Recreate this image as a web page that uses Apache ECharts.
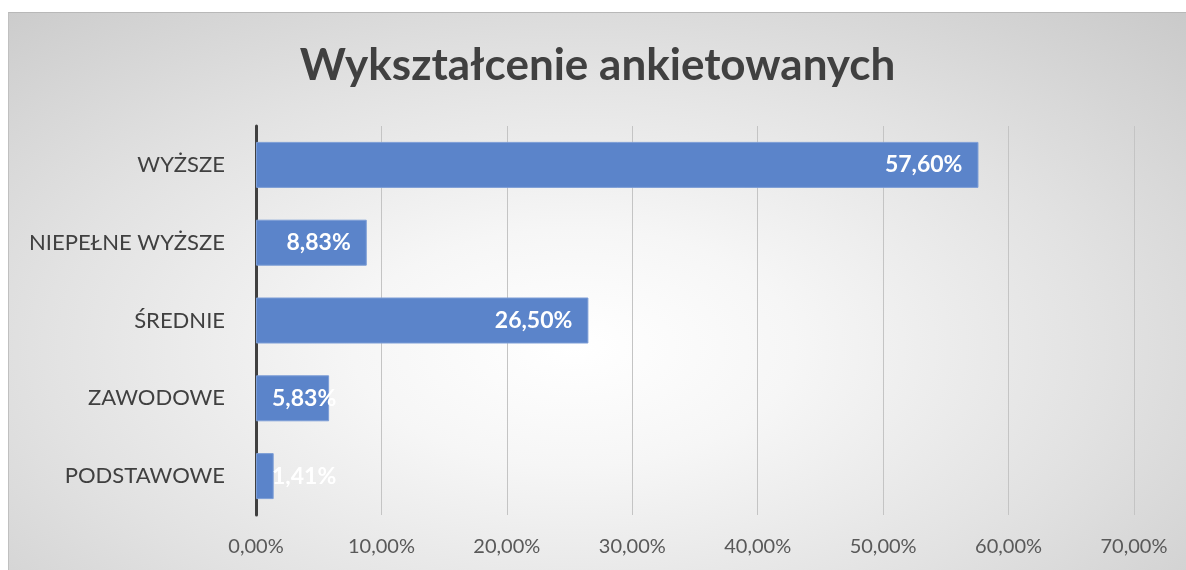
<!DOCTYPE html>
<html>
<head>
<meta charset="utf-8">
<script src="https://cdn.jsdelivr.net/npm/echarts@6/dist/echarts.min.js"></script>
<style>
html,body{margin:0;padding:0;background:#fff;width:1186px;height:570px;overflow:hidden;}
#chart{position:absolute;left:8px;top:12px;width:1178px;height:558px;
  border-top:1px solid #b8b8b8;border-left:1px solid #c0c0c0;box-sizing:border-box;
  background:radial-gradient(ellipse 75% 85% at 48% 60%, #ffffff 0%, #f6f6f6 25%, #e2e2e2 60%, #c9c9c9 100%);}
</style>
</head>
<body>
<div id="chart"></div>
<script>
var titleText = 'Wykształcenie ankietowanych';
var categories = ['WYŻSZE', 'NIEPEŁNE WYŻSZE', 'ŚREDNIE', 'ZAWODOWE', 'PODSTAWOWE'];
var values = [57.60, 8.83, 26.50, 5.83, 1.41];
var axisMax = 70;
var axisStep = 10;

function pct(v){ return v.toFixed(2).replace('.', ',') + '%'; }

var chart = echarts.init(document.getElementById('chart'), null, {renderer:'canvas'});
var dataItems = values.map(function(v){
  var small = v < 8;
  return {
    value: v,
    label: small ? {position:'insideLeft', distance:16} : {position:'insideRight', distance:16}
  };
});
chart.setOption({
  backgroundColor: 'transparent',
  animation: false,
  title: {
    text: titleText,
    left: 'center',
    top: 26,
    textStyle: {fontFamily:'Lato', fontWeight:'bold', fontSize:44, color:'#404040'}
  },
  grid: {left: 247, right: 52, top: 113, bottom: 55, containLabel:false},
  xAxis: {
    type: 'value', min: 0, max: axisMax, interval: axisStep,
    axisLine: {show:false}, axisTick: {show:false},
    splitLine: {show:true, lineStyle:{color:'#c4c4c4', width:1}},
    axisLabel: {formatter: function(v){return pct(v);}, fontFamily:'Lato', fontSize:20, color:'#595959', margin:22}
  },
  yAxis: {
    type: 'category', data: categories, inverse: true,
    axisLine: {show:true, lineStyle:{color:'#404040', width:3}},
    axisTick: {show:false},
    axisLabel: {fontFamily:'Lato', fontSize:22, color:'#404040', margin:31}
  },
  series: [{
    type: 'bar',
    data: dataItems,
    barWidth: 46,
    itemStyle: {color:'#5B84CA', borderColor:'#7C9DD6', borderWidth:1},
    label: {show:true, formatter: function(p){return pct(p.value);}, color:'#ffffff', fontFamily:'Lato', fontWeight:'bold', fontSize:23}
  }]
});
</script>
</body>
</html>
